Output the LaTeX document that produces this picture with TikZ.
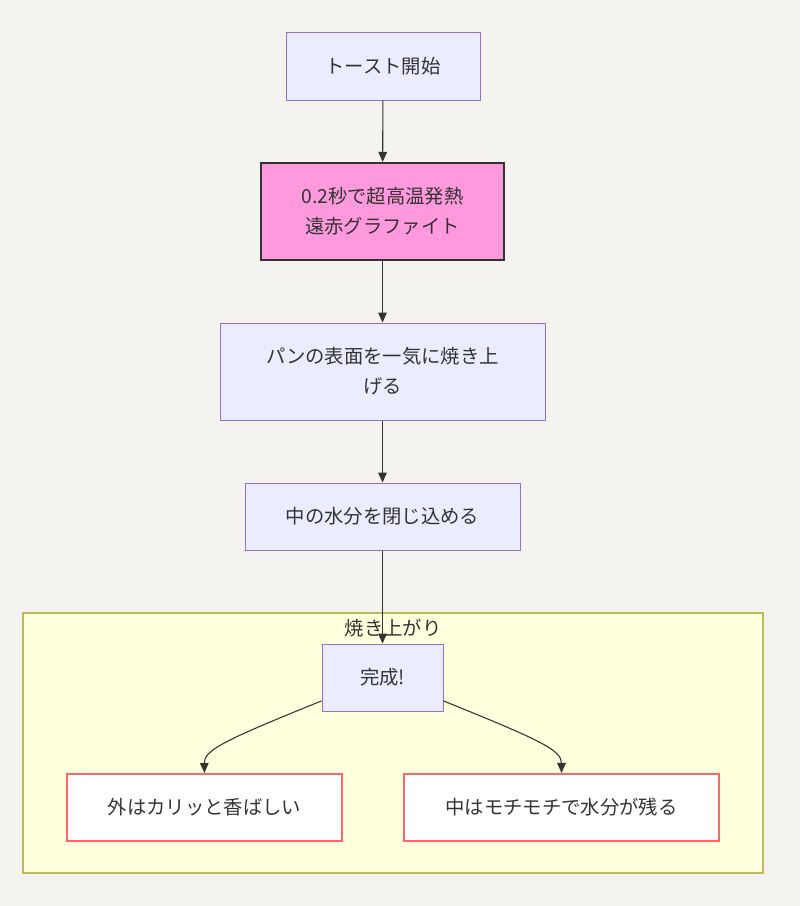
\documentclass[tikz,border=0pt]{standalone}
\usepackage{fontspec}
\setmainfont{Noto Sans CJK JP}
\usetikzlibrary{arrows.meta}
\definecolor{bgc}{HTML}{F5F3EF}
\definecolor{nfill}{HTML}{ECECFF}
\definecolor{nline}{HTML}{9370DB}
\definecolor{pinkf}{HTML}{FF99DD}
\definecolor{darkl}{HTML}{333333}
\definecolor{clf}{HTML}{FFFFDE}
\definecolor{cll}{HTML}{BBBB55}
\definecolor{redl}{HTML}{FF6666}
\tikzset{
  base/.style={rectangle, inner sep=0pt, font=\fontsize{14.5pt}{22.5pt}\selectfont, text=darkl, align=center},
  plain/.style={base, fill=nfill, draw=nline, line width=0.75pt},
  hot/.style={base, fill=pinkf, draw=darkl, line width=1.6pt},
  result/.style={base, fill=white, draw=redl, line width=1.6pt},
  conn/.style={draw=darkl, line width=0.8pt, -{Triangle[length=7.5pt,width=6.5pt]}},
}
\begin{document}
\begin{tikzpicture}[x=0.75pt,y=-0.75pt]
\fill[bgc] (0,0) rectangle (800,906);
\useasboundingbox (0,0) rectangle (800,906);
% cluster
\draw[fill=clf, draw=cll, line width=0.8pt] (23,613) rectangle (763,873);
\node[base] (cl) at (393,628) {焼き上がり};
% nodes
\node[plain, minimum width=194*0.75pt, minimum height=67*0.75pt] (n1) at (383,66.5) {トースト開始};
\node[hot, minimum width=243*0.75pt, minimum height=97*0.75pt] (n2) at (382.5,211.5) {0.2秒で超高温発熱\\遠赤グラファイト};
\node[plain, minimum width=325*0.75pt, minimum height=97*0.75pt] (n3) at (382.5,371.5) {パンの表面を一気に焼き上\\げる};
\node[plain, minimum width=275*0.75pt, minimum height=67*0.75pt] (n4) at (382.5,516.5) {中の水分を閉じ込める};
\node[plain, minimum width=121*0.75pt, minimum height=67*0.75pt] (n5) at (382.5,677.5) {完成!};
\node[result, minimum width=275*0.75pt, minimum height=67*0.75pt] (n6) at (204.5,807.5) {外はカリッと香ばしい};
\node[result, minimum width=315*0.75pt, minimum height=67*0.75pt] (n7) at (561.5,807.5) {中はモチモチで水分が残る};
% edges
\draw[conn] (n1) -- (n2);
\draw[conn] (n2) -- (n3);
\draw[conn] (n3) -- (n4);
\draw[conn] (n4) -- (n5);
\draw[conn] (n5.201) .. controls (225,740) and (204,750) .. (n6.north);
\draw[conn] (n5.339) .. controls (540,740) and (561.5,750) .. (n7.north);
\end{tikzpicture}
\end{document}
